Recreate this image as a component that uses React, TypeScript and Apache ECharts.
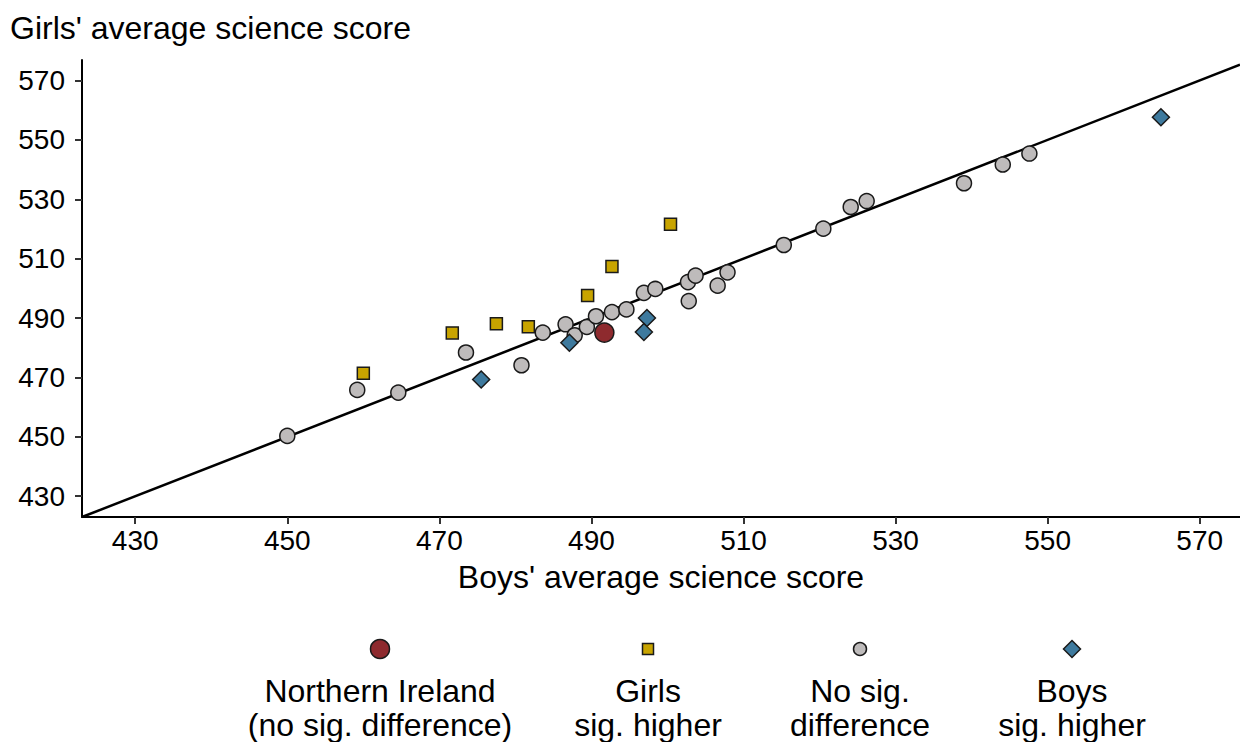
import React, { useEffect, useRef } from "react";
import * as echarts from "echarts";

// Boys' score (x), girls' score (y)
const noSigDiff: [number, number][] = [
  [450.0, 450.3], [459.2, 465.8], [464.6, 464.9], [473.5, 478.4], [480.8, 474.1],
  [483.6, 485.1], [486.6, 487.9], [487.8, 484.2], [489.4, 487.0], [490.6, 490.6],
  [492.7, 492.0], [494.6, 492.9], [496.9, 498.5], [498.4, 499.8], [502.8, 495.7],
  [502.7, 502.1], [503.7, 504.3], [506.6, 500.9], [507.9, 505.4], [515.3, 514.6],
  [520.5, 520.1], [524.1, 527.4], [526.2, 529.4], [539.0, 535.4], [544.1, 541.7],
  [547.6, 545.4],
];
const girlsHigher: [number, number][] = [
  [460.0, 471.4], [471.7, 485.0], [477.5, 488.1], [481.7, 487.1], [489.5, 497.6],
  [492.7, 507.4], [500.4, 521.6],
];
const boysHigher: [number, number][] = [
  [475.5, 469.3], [487.1, 481.7], [497.3, 490.0], [496.9, 485.3], [564.9, 557.6],
];
const northernIreland: [number, number][] = [[491.7, 485.1]];

const axisMin = 423;
const axisMax = 575.3;
const yAxisMax = 576.9;
const tickValues = [430, 450, 470, 490, 510, 530, 550, 570];
const equalityLine: [number, number][] = [[axisMin, axisMin], [axisMax, axisMax]];

const legendItems = [
  { label: "Northern Ireland\n(no sig. difference)", color: "#8E2A2E", shape: "bigcircle" },
  { label: "Girls\nsig. higher", color: "#C8A400", shape: "square" },
  { label: "No sig.\ndifference", color: "#BEBBBB", shape: "circle" },
  { label: "Boys\nsig. higher", color: "#3E7A9E", shape: "diamond" },
];
const legendX = [380, 648, 860, 1072];

const FONT = "'Liberation Sans', Arial, sans-serif";
const BORDER = "#1a1a1a";

export default function App() {
  const ref = useRef<HTMLDivElement>(null);
  useEffect(() => {
    if (!ref.current) return;
    const chart = echarts.init(ref.current, undefined, { renderer: "svg" });

    const legendGraphics: any[] = [];
    legendItems.forEach((it, i) => {
      const cx = legendX[i];
      const cy = 649;
      const style = { fill: it.color, stroke: BORDER, lineWidth: 1.5 };
      if (it.shape === "bigcircle") {
        legendGraphics.push({ type: "circle", shape: { cx, cy, r: 9.5 }, style });
      } else if (it.shape === "circle") {
        legendGraphics.push({ type: "circle", shape: { cx, cy, r: 6.5 }, style });
      } else if (it.shape === "square") {
        legendGraphics.push({ type: "rect", shape: { x: cx - 5.5, y: cy - 5.5, width: 11, height: 11 }, style });
      } else {
        legendGraphics.push({
          type: "polygon",
          shape: { points: [[cx, cy - 8.5], [cx + 8.5, cy], [cx, cy + 8.5], [cx - 8.5, cy]] },
          style,
        });
      }
      legendGraphics.push({
        type: "text",
        x: cx,
        y: 674,
        style: {
          text: it.label,
          fill: "#000",
          font: `32px ${FONT}`,
          align: "center",
          verticalAlign: "top",
          lineHeight: 34,
        },
      });
    });

    const scatter = (name: string, data: [number, number][], symbol: string, size: number, color: string, z: number) => ({
      name,
      type: "scatter",
      data,
      symbol,
      symbolSize: size,
      z,
      itemStyle: { color, borderColor: BORDER, borderWidth: 1.5, opacity: 1 },
    });

    chart.setOption({
      animation: false,
      backgroundColor: "#fff",
      grid: { left: 82, right: 0, top: 60, bottom: 225, containLabel: false },
      xAxis: {
        type: "value",
        min: axisMin,
        max: axisMax,
        name: "Boys' average science score",
        nameLocation: "middle",
        nameGap: 44,
        nameTextStyle: { fontSize: 32, color: "#000", fontFamily: FONT },
        axisLine: { show: true, onZero: false, lineStyle: { color: "#000", width: 2 } },
        axisTick: { show: true, length: 7, customValues: tickValues, lineStyle: { color: "#333", width: 2 } },
        axisLabel: { customValues: tickValues, fontSize: 28, color: "#000", fontFamily: FONT, margin: 9 },
        splitLine: { show: false },
      },
      yAxis: {
        type: "value",
        min: axisMin,
        max: yAxisMax,
        axisLine: { show: true, onZero: false, lineStyle: { color: "#000", width: 2 } },
        axisTick: { show: true, length: 7, customValues: tickValues, lineStyle: { color: "#333", width: 2 } },
        axisLabel: { customValues: tickValues, fontSize: 28, color: "#000", fontFamily: FONT, margin: 17 },
        splitLine: { show: false },
      },
      graphic: [
        {
          type: "text",
          left: 10,
          top: 12,
          style: { text: "Girls' average science score", fill: "#000", font: `32px ${FONT}` },
        },
        ...legendGraphics,
      ],
      series: [
        {
          type: "line",
          data: equalityLine,
          symbol: "none",
          z: 1,
          lineStyle: { color: "#000", width: 2.5 },
          silent: true,
        },
        scatter("No sig. difference", noSigDiff, "circle", 15, "#BEBBBB", 2),
        scatter("Girls sig. higher", girlsHigher, "rect", 12, "#C8A400", 3),
        scatter("Boys sig. higher", boysHigher, "diamond", 17, "#3E7A9E", 4),
        scatter("Northern Ireland", northernIreland, "circle", 19, "#8E2A2E", 5),
      ],
    });
    return () => chart.dispose();
  }, []);
  return (
    <div
      ref={ref}
      style={{ position: "fixed", left: 0, top: 0, width: 1240, height: 742 }}
    />
  );
}
